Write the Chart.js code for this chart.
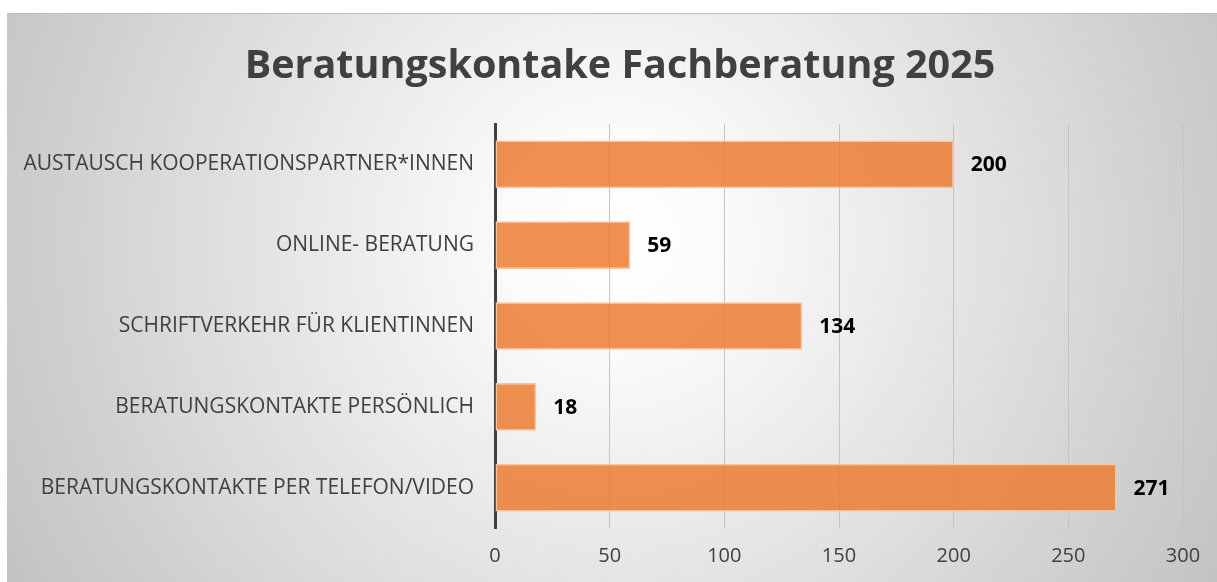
<!DOCTYPE html>
<html>
<head>
<meta charset="utf-8">
<script src="https://cdn.jsdelivr.net/npm/chart.js@4/dist/chart.umd.min.js"></script>
<style>
  html, body { margin: 0; padding: 0; background: #ffffff; }
  #wrap { width: 1217px; height: 582px; position: relative; }
</style>
</head>
<body>
<div id="wrap"><canvas id="c" width="1217" height="582"></canvas></div>
<script>
const titleText = 'Beratungskontake Fachberatung 2025';
const categories = [
  'AUSTAUSCH KOOPERATIONSPARTNER*INNEN',
  'ONLINE- BERATUNG',
  'SCHRIFTVERKEHR FÜR KLIENTINNEN',
  'BERATUNGSKONTAKTE PERSÖNLICH',
  'BERATUNGSKONTAKTE PER TELEFON/VIDEO'
];
const values = [200, 59, 134, 18, 271];
const xTicks = [0, 50, 100, 150, 200, 250, 300];

const bgPlugin = {
  id: 'bg',
  beforeDraw(chart) {
    const ctx = chart.ctx;
    const W = chart.width, H = chart.height;
    ctx.save();
    ctx.fillStyle = '#ffffff';
    ctx.fillRect(0, 0, W, H);
    const g = ctx.createRadialGradient(615, 240, 0, 615, 240, 720);
    g.addColorStop(0, '#ffffff');
    g.addColorStop(0.15, '#fbfbfb');
    g.addColorStop(1, '#c0c0c0');
    ctx.fillStyle = g;
    ctx.fillRect(7, 13, W - 7, H - 13);
    ctx.fillStyle = '#bdbdbd';
    ctx.fillRect(7, 13, W - 7, 1);
    ctx.restore();
  },
  afterDraw(chart) {
    const ctx = chart.ctx;
    ctx.save();
    ctx.font = 'bold 39.5px "Open Sans", sans-serif';
    ctx.fillStyle = '#404040';
    ctx.textAlign = 'center';
    ctx.textBaseline = 'middle';
    ctx.fillText(titleText, 620, 67);
    ctx.restore();
  }
};

const labelPlugin = {
  id: 'valueLabels',
  afterDatasetsDraw(chart) {
    const ctx = chart.ctx;
    const meta = chart.getDatasetMeta(0);
    ctx.save();
    ctx.font = 'bold 21px "Open Sans", sans-serif';
    ctx.fillStyle = '#000000';
    ctx.textAlign = 'left';
    ctx.textBaseline = 'middle';
    meta.data.forEach((bar, i) => {
      ctx.fillText(String(values[i]), bar.x + 17, bar.y + 1);
    });
    ctx.restore();
  }
};

new Chart(document.getElementById('c'), {
  type: 'bar',
  data: {
    labels: categories,
    datasets: [{
      data: values,
      backgroundColor: 'rgba(237,125,49,0.85)',
      borderColor: 'rgba(248,196,160,1)',
      borderWidth: 1.5,
      borderSkipped: false,
      categoryPercentage: 1.0,
      barPercentage: 0.59
    }]
  },
  options: {
    indexAxis: 'y',
    responsive: false,
    animation: false,
    devicePixelRatio: 1,
    layout: { padding: { left: 7, right: 34, top: 124, bottom: 0 } },
    plugins: {
      legend: { display: false },
      tooltip: { enabled: false },
      title: { display: false }
    },
    scales: {
      x: {
        min: 0,
        max: 300,
        afterBuildTicks(scale) { scale.ticks = xTicks.map(v => ({ value: v })); },
        afterFit(scale) { scale.height = 54; },
        grid: { color: '#c4c4c4', lineWidth: 1, drawTicks: false },
        border: { display: false },
        ticks: {
          color: '#404040',
          font: { family: '"Open Sans", sans-serif', size: 20 },
          padding: 16
        }
      },
      y: {
        afterFit(scale) { scale.width = 488; },
        grid: { display: false, drawTicks: false },
        border: { display: true, color: '#404040', width: 3 },
        ticks: {
          color: '#404040',
          font: { family: '"Open Sans", sans-serif', size: 21 },
          padding: 21
        }
      }
    }
  },
  plugins: [bgPlugin, labelPlugin]
});
</script>
</body>
</html>
